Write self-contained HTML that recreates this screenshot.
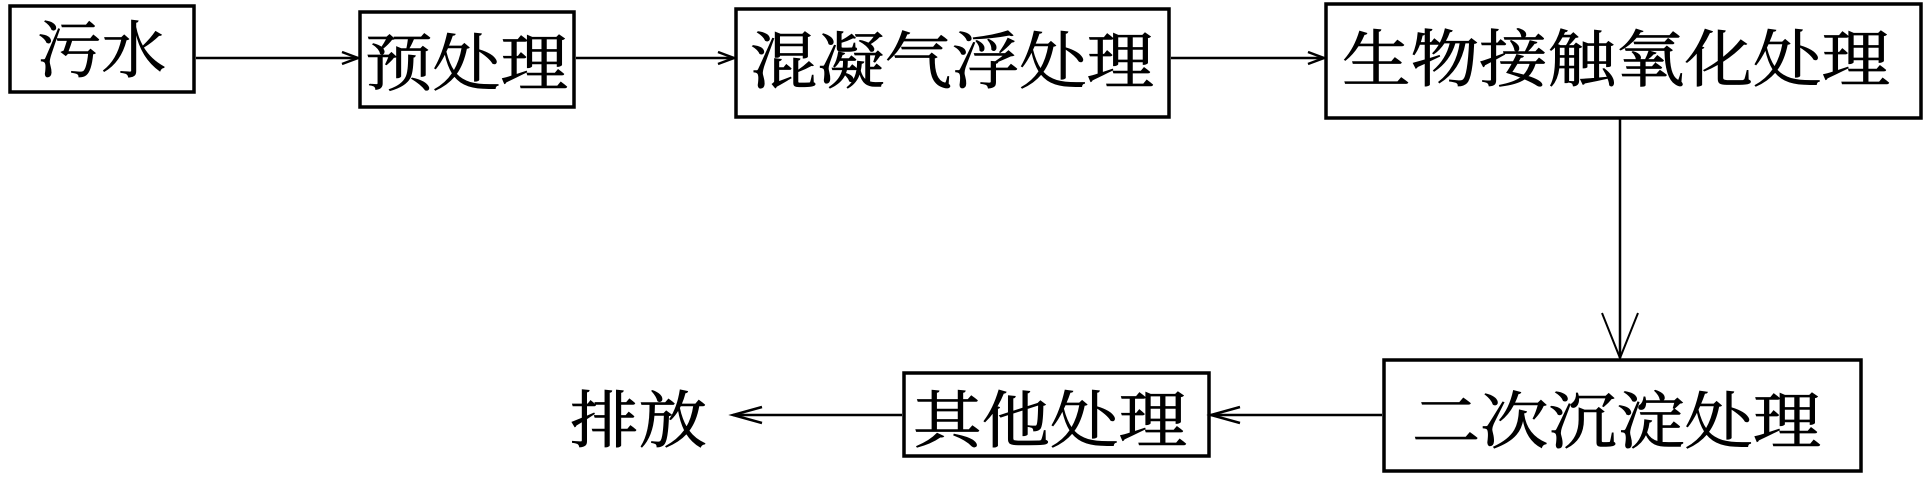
<!DOCTYPE html>
<html><head><meta charset="utf-8"><style>html,body{margin:0;padding:0;background:#fff}svg{display:block}</style></head>
<body>
<svg width="1925" height="484" viewBox="0 0 1925 484" xmlns="http://www.w3.org/2000/svg">
<g fill="none" stroke="#000" stroke-width="3.5">
<rect x="10" y="6" width="184" height="86"/>
<rect x="360" y="12" width="214" height="95"/>
<rect x="736" y="9" width="433" height="108"/>
<rect x="1326" y="4" width="595" height="114"/>
<rect x="1384" y="360" width="477" height="111"/>
<rect x="904" y="373" width="305" height="83"/>
</g>
<g stroke="#000" stroke-width="2.5" fill="none">
<line x1="196" y1="58" x2="358" y2="58"/>
<path d="M342 52 L358 58 L342 64"/>
<line x1="576" y1="58" x2="734" y2="58"/>
<path d="M718 52 L734 58 L718 64"/>
<line x1="1171" y1="58" x2="1324" y2="58"/>
<path d="M1308 52 L1324 58 L1308 64"/>
<line x1="1620" y1="118" x2="1620" y2="358"/>
<path d="M1602 313 L1620 358 L1638 313" stroke-width="2"/>
<line x1="1382" y1="415" x2="1211" y2="415"/>
<path d="M1240 407 L1211 415 L1240 423"/>
<line x1="902" y1="415" x2="733" y2="415"/>
<path d="M762 407 L733 415 L762 423"/>
</g>
<g font-family="'Liberation Serif','Noto Serif CJK SC',serif" font-size="62" fill="#000" stroke="#000" stroke-width="0.8">
<text x="37" y="72" textLength="129" lengthAdjust="spacingAndGlyphs">污水</text>
<text x="365" y="85" textLength="203" lengthAdjust="spacingAndGlyphs">预处理</text>
<text x="750" y="83" textLength="404" lengthAdjust="spacingAndGlyphs">混凝气浮处理</text>
<text x="1342" y="81" textLength="548" lengthAdjust="spacingAndGlyphs">生物接触氧化处理</text>
<text x="1412" y="443" textLength="409" lengthAdjust="spacingAndGlyphs">二次沉淀处理</text>
<text x="913" y="442" textLength="274" lengthAdjust="spacingAndGlyphs">其他处理</text>
<text x="570" y="442" textLength="137" lengthAdjust="spacingAndGlyphs">排放</text>
</g>
</svg>
</body></html>
